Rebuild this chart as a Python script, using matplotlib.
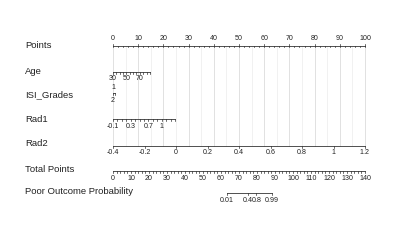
import numpy as np
import matplotlib.pyplot as plt

plt.rcParams['font.family'] = ['Liberation Sans', 'DejaVu Sans']

# Logistic model for poor outcome
intercept = -21.39
coef = {'Age': 0.098, 'ISI_Grades': 0.35, 'Rad1': 6.46, 'Rad2': 23.0}

# Axis values for each predictor
age_ticks = np.arange(30, 86, 5)
age_labels = [30, 50, 70]
isi_levels = [1, 2]
rad1_ticks = np.round(np.arange(-0.1, 1.31, 0.1), 1)
rad1_labels = [-0.1, 0.3, 0.7, 1]
rad2_ticks = np.round(np.arange(-0.4, 1.21, 0.2), 1)
rad2_labels = ['-0.4', '-0.2', '0', '0.2', '0.4', '0.6', '0.8', '1', '1.2']
total_ticks = np.arange(0, 141, 2)
total_labels = np.arange(0, 141, 10)
prob_ticks = [0.01, 0.4, 0.8, 0.99]
prob_labels = ['0.01', '0.4', '0.8', '0.99']

row_names = ['Points', 'Age', 'ISI_Grades', 'Rad1', 'Rad2', 'Total Points',
             'Poor Outcome Probability']

# points scale: widest predictor effect = 100 points
mins = {'Age': age_ticks.min(), 'ISI_Grades': 1, 'Rad1': rad1_ticks.min(), 'Rad2': rad2_ticks.min()}
ranges = {'Age': np.ptp(age_ticks), 'ISI_Grades': 1, 'Rad1': np.ptp(rad1_ticks), 'Rad2': np.ptp(rad2_ticks)}
scale = 100 / max(coef[k] * ranges[k] for k in coef)
lp_min = intercept + sum(coef[k] * mins[k] for k in coef)


def pts(var, v):
    return scale * coef[var] * (np.asarray(v, dtype=float) - mins[var])


def total_to_x(t):
    return np.asarray(t, dtype=float) * 100 / 140


def prob_to_x(p):
    p = np.asarray(p, dtype=float)
    lp = np.log(p / (1 - p))
    return total_to_x((lp - lp_min) * scale)


fig = plt.figure(figsize=(4, 2.5), dpi=100)
ax = fig.add_axes([0, 0, 1, 1])
ax.set_xlim(-113 / 2.52, (400 - 113) / 2.52)
ax.set_ylim(250, 0)
ax.axis('off')

rows = [46, 72, 93, 119, 146, 171, 193]
name_y = [46, 71, 95, 119, 144, 170, 192]
lab_x = (25 - 113) / 2.52
for name, y in zip(row_names, name_y):
    ax.text(lab_x, y, name, fontsize=6.8, va='center', ha='left', color='#222222')

tick_fs = 5.1
lc = '#333333'

# grid behind the predictor rows
for g in np.arange(0, 101, 5):
    col = '#dcdcdc' if g % 10 == 0 else '#efefef'
    ax.plot([g, g], [rows[0], rows[4]], color=col, lw=0.6, zorder=0)


def draw_axis(y, xs, lab_xs, labs, down=True, tl=1.6, lab_off=7):
    xs = np.asarray(xs, dtype=float)
    ax.plot([xs.min(), xs.max()], [y, y], color=lc, lw=0.6)
    d = tl if down else -tl
    for x in xs:
        ax.plot([x, x], [y, y + d], color=lc, lw=0.5)
    for x, s in zip(lab_xs, labs):
        ax.text(x, y + (lab_off if down else -lab_off), s, fontsize=tick_fs,
                ha='center', va='center', color='#222222')


# Points row: labels above
pt_minor = np.arange(0, 101, 2)
ax.plot([0, 100], [rows[0], rows[0]], color=lc, lw=0.6)
for x in pt_minor:
    ax.plot([x, x], [rows[0], rows[0] + 1.4], color=lc, lw=0.5)
for x in np.arange(0, 101, 10):
    ax.plot([x, x], [rows[0], rows[0] - 2.2], color=lc, lw=0.5)
    ax.text(x, rows[0] - 7, str(x), fontsize=tick_fs, ha='center', va='center', color='#222222')

draw_axis(rows[1], pts('Age', age_ticks), pts('Age', age_labels), [str(a) for a in age_labels])

# ISI_Grades: short segment, labels above and below
isi_x = pts('ISI_Grades', isi_levels)
ax.plot(isi_x, [rows[2], rows[2]], color=lc, lw=0.6)
for x in isi_x:
    ax.plot([x, x], [rows[2], rows[2] + 1.6], color=lc, lw=0.5)
ax.text(isi_x[0], rows[2] - 5.5, str(isi_levels[0]), fontsize=tick_fs, ha='center', va='center', color='#222222')
ax.text(isi_x[0], rows[2] + 7, str(isi_levels[1]), fontsize=tick_fs, ha='center', va='center', color='#222222')

draw_axis(rows[3], pts('Rad1', rad1_ticks), pts('Rad1', rad1_labels), [str(r) for r in rad1_labels])
draw_axis(rows[4], pts('Rad2', rad2_ticks), pts('Rad2', rad2_ticks), rad2_labels)
draw_axis(rows[5], total_to_x(total_ticks), total_to_x(total_labels), [str(t) for t in total_labels])
draw_axis(rows[6], prob_to_x(prob_ticks), prob_to_x(prob_ticks), prob_labels, lab_off=8)

fig.savefig('out.png', dpi=100)
